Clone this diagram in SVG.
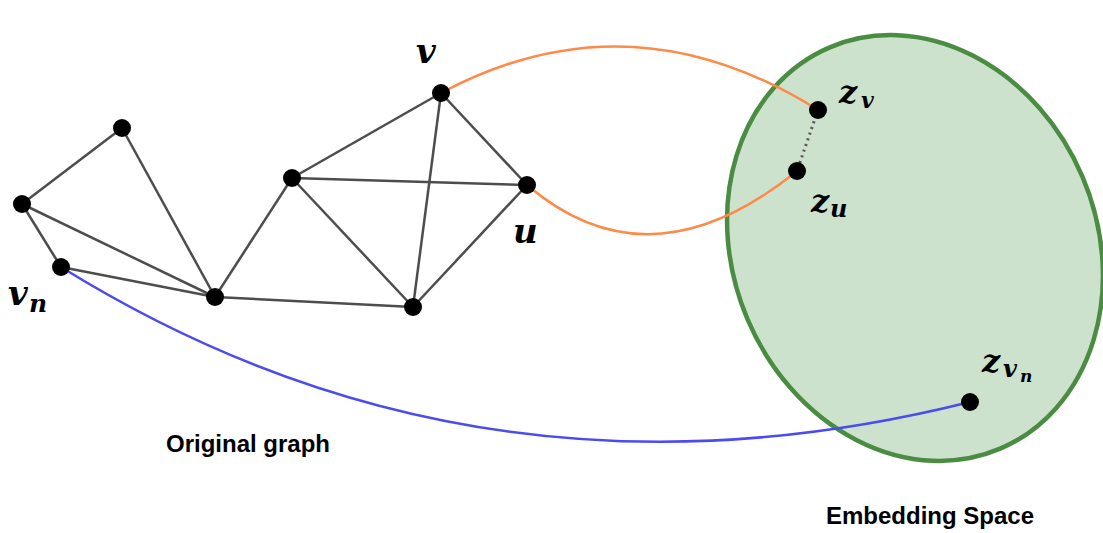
<svg xmlns="http://www.w3.org/2000/svg" width="1103" height="533" viewBox="0 0 1103 533">
<style>
.e{stroke:#4d4d4d;stroke-width:2.5;fill:none}
.n{fill:#000}
.m{font-family:"DejaVu Serif","Liberation Serif",serif;font-style:italic;font-weight:bold;fill:#000}
.t{font-family:"Liberation Sans",Arial,sans-serif;font-weight:bold;font-size:24px;fill:#000}
</style>
<g id="space">
<ellipse cx="915" cy="248" rx="182" ry="218" transform="rotate(-23 915 248)" fill="#cde2cc" stroke="#4a8c42" stroke-width="4.5"/>
</g>
<g id="connectors">
<line class="e" x1="122" y1="128" x2="22" y2="204"/>
<line class="e" x1="122" y1="128" x2="215" y2="297"/>
<line class="e" x1="22" y1="204" x2="215" y2="297"/>
<line class="e" x1="22" y1="204" x2="61" y2="267"/>
<line class="e" x1="61" y1="267" x2="215" y2="297"/>
<line class="e" x1="215" y1="297" x2="292" y2="178"/>
<line class="e" x1="215" y1="297" x2="413" y2="307"/>
<line class="e" x1="292" y1="178" x2="441" y2="93"/>
<line class="e" x1="292" y1="178" x2="527" y2="185"/>
<line class="e" x1="292" y1="178" x2="413" y2="307"/>
<line class="e" x1="441" y1="93" x2="527" y2="185"/>
<line class="e" x1="441" y1="93" x2="413" y2="307"/>
<line class="e" x1="527" y1="185" x2="413" y2="307"/>
<path d="M441 93 Q630 -8 818 110" fill="none" stroke="#ff8a48" stroke-width="2.5"/>
<path d="M527 185 Q650 290 797 171" fill="none" stroke="#ff8a48" stroke-width="2.5"/>
<path d="M61 267 C361 453 670 477 970 402" fill="none" stroke="#4b4bf2" stroke-width="2.5"/>
<line x1="818" y1="110" x2="797" y2="171" stroke="#555" stroke-width="3" stroke-dasharray="2,4"/>
</g>
<g id="n1"><circle class="n" cx="122" cy="128" r="9"/></g>
<g id="n2"><circle class="n" cx="22" cy="204" r="9"/></g>
<g id="vn"><circle class="n" cx="61" cy="267" r="9"/><text class="m" font-size="34"><tspan x="8" y="305">v</tspan><tspan x="29" y="312" font-size="25">n</tspan></text></g>
<g id="n4"><circle class="n" cx="215" cy="297" r="9"/></g>
<g id="n5"><circle class="n" cx="292" cy="178" r="9"/></g>
<g id="v"><circle class="n" cx="441" cy="93" r="9"/><text class="m" x="416" y="63" font-size="34">v</text></g>
<g id="u"><circle class="n" cx="527" cy="185" r="9"/><text class="m" x="513" y="243" font-size="34">u</text></g>
<g id="n8"><circle class="n" cx="413" cy="307" r="9"/></g>
<g id="zv"><circle class="n" cx="818" cy="110" r="9"/><text class="m" font-size="32"><tspan x="839" y="103">z</tspan><tspan x="861" y="108" font-size="22">v</tspan></text></g>
<g id="zu"><circle class="n" cx="797" cy="171" r="9"/><text class="m" font-size="32"><tspan x="811" y="212">z</tspan><tspan x="830" y="217" font-size="24">u</tspan></text></g>
<g id="zvn"><circle class="n" cx="970" cy="402" r="9"/><text class="m" font-size="32"><tspan x="982" y="372">z</tspan><tspan x="1003" y="377" font-size="24">v</tspan><tspan x="1020" y="382" font-size="17">n</tspan></text></g>
<text class="t" x="166" y="452">Original graph</text>
<text class="t" x="826" y="524">Embedding Space</text>
</svg>
